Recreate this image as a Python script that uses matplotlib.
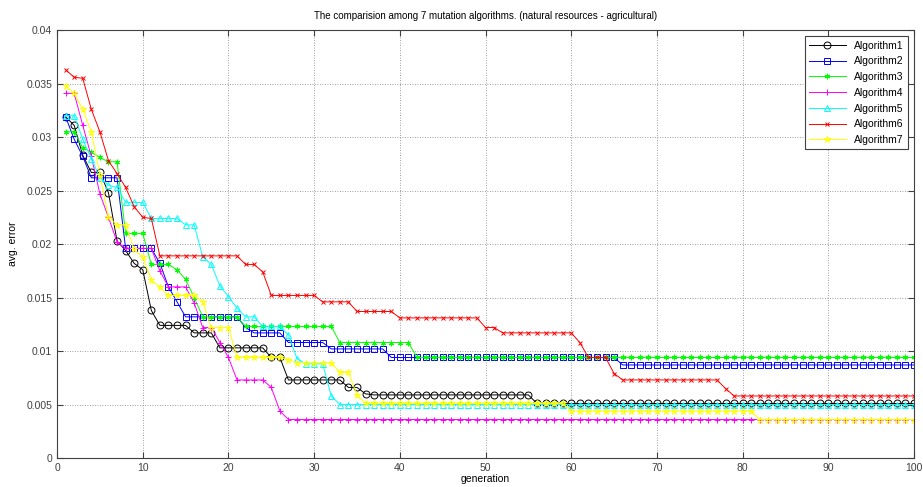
import numpy as np
import matplotlib
matplotlib.use('Agg')
import matplotlib.pyplot as plt

plt.rcParams['font.family'] = ['Liberation Sans Narrow', 'Liberation Sans', 'DejaVu Sans']

generation = np.arange(1, 101)

alg1 = ([0.0319, 0.0311, 0.0283] + [0.0267]*2 + [0.0248, 0.0203, 0.0194, 0.0182, 0.0176, 0.0138]
        + [0.0124]*4 + [0.0117]*3 + [0.0103]*6 + [0.0094]*2 + [0.0073]*7 + [0.0066]*2
        + [0.0060] + [0.0059]*19 + [0.0051]*45)
alg2 = ([0.0319, 0.0298, 0.0282] + [0.0262]*4 + [0.0196]*4 + [0.0182, 0.0160, 0.0146]
        + [0.0132]*7 + [0.0122] + [0.0117]*4 + [0.0108]*5 + [0.0102]*7 + [0.0094]*27 + [0.0087]*35)
alg3 = ([0.0305]*2 + [0.0290, 0.0286, 0.0281] + [0.0277]*2 + [0.0210]*3 + [0.0181]*3
        + [0.0176, 0.0167, 0.0150] + [0.0132]*5 + [0.0123]*11 + [0.0108]*9 + [0.0094]*59)
alg4 = ([0.0341]*2 + [0.0311, 0.0282, 0.0247, 0.0225, 0.0202] + [0.0196]*4 + [0.0175]
        + [0.0160]*3 + [0.0145] + [0.0122]*2 + [0.0108, 0.0094] + [0.0073]*4
        + [0.0066, 0.0044] + [0.0036]*74)
alg5 = ([0.0320]*2 + [0.0298, 0.0280, 0.0262, 0.0255, 0.0253] + [0.0239]*3 + [0.0224]*4
        + [0.0218]*2 + [0.0188, 0.0181, 0.0161, 0.0151, 0.0140] + [0.0132]*2 + [0.0123]*3
        + [0.0115, 0.0093] + [0.0088]*3 + [0.0058] + [0.0050]*68)
alg6 = ([0.0363, 0.0356, 0.0355, 0.0326, 0.0305, 0.0278, 0.0266, 0.0253, 0.0235, 0.0225, 0.0224]
        + [0.0189]*10 + [0.0181]*2 + [0.0174] + [0.0152]*6 + [0.0146]*4 + [0.0137]*5
        + [0.0131]*10 + [0.0122]*2 + [0.0117]*9 + [0.0108] + [0.0094]*3 + [0.0079]
        + [0.0073]*12 + [0.0065] + [0.0058]*22)
alg7 = ([0.0348, 0.0341, 0.0326, 0.0305, 0.0265, 0.0225] + [0.0218]*2 + [0.0195, 0.0188, 0.0166, 0.0160]
        + [0.0152]*4 + [0.0146] + [0.0122]*3 + [0.0094]*6 + [0.0092] + [0.0089]*5 + [0.0080]*2
        + [0.0059] + [0.0051]*24 + [0.0044]*22 + [0.0036]*19)

series = [alg1, alg2, alg3, alg4, alg5, alg6, alg7]
labels = ['Algorithm1', 'Algorithm2', 'Algorithm3', 'Algorithm4', 'Algorithm5', 'Algorithm6', 'Algorithm7']
colors = ['#000000', '#0000ff', '#00ff00', '#ff00ff', '#00ffff', '#ff0000', '#ffff00']
markers = ['o', 's', (6, 2, 0), '+', '^', 'x', '*']
msizes = [5, 5, 4, 5, 5, 3.5, 4.5]

fig = plt.figure(figsize=(9.23, 4.87), dpi=100)
ax = fig.add_axes([0.0618, 0.0595, 0.9285, 0.8785])

for y, lab, c, m, ms in zip(series, labels, colors, markers, msizes):
    ax.plot(generation, y, color=c, marker=m, markersize=ms, linewidth=0.7,
            markerfacecolor='none', markeredgewidth=0.7, label=lab)

ax.set_xlim(0, 100)
ax.set_ylim(0, 0.04)
ax.set_xticks(np.arange(0, 101, 10))
ax.set_yticks(np.arange(0, 0.0401, 0.005))
ax.set_yticklabels(['0', '0.005', '0.01', '0.015', '0.02', '0.025', '0.03', '0.035', '0.04'])
ax.grid(True, linestyle=(0, (1, 2)), color='#808080', linewidth=0.6)
ax.tick_params(direction='in', top=True, right=True, labelsize=7.5, colors='#404040', length=4)
for s in ax.spines.values():
    s.set_color('#404040')
    s.set_linewidth(0.8)

ax.set_title('The comparision among 7 mutation algorithms. (natural resources - agricultural)',
             fontsize=7, pad=8)
ax.set_xlabel('generation', fontsize=7.5, labelpad=1)
ax.set_ylabel('avg. error', fontsize=7.5, labelpad=6)

leg = ax.legend(loc='upper right', fontsize=7.5, fancybox=False, edgecolor='#404040',
                handlelength=3.5, borderaxespad=0.6, labelspacing=0.55, framealpha=1)
leg.get_frame().set_linewidth(0.8)

fig.savefig('out.png', dpi=100)
